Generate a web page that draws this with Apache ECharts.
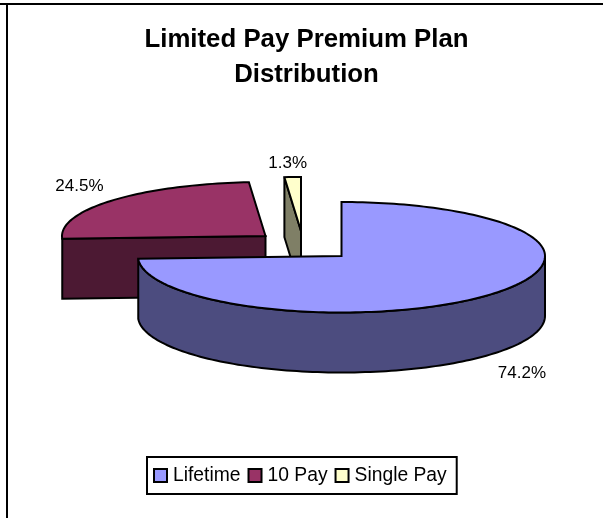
<!DOCTYPE html>
<html>
<head>
<meta charset="utf-8">
<title>Limited Pay Premium Plan Distribution</title>
<script src="https://cdn.jsdelivr.net/npm/echarts@6/dist/echarts.min.js"></script>
<style>
  html, body { margin: 0; padding: 0; background: #fff; }
  #chart { width: 603px; height: 518px; }
</style>
</head>
<body>
<div id="chart"></div>
<script>
var categories = ['Lifetime', '10 Pay', 'Single Pay'];
var shares = [74.2, 24.5, 1.3];
var shareLabels = ['74.2%', '24.5%', '1.3%'];

// look of the 3D pie, same order as categories
var topColors = ['#9999ff', '#993366', '#ffffcc'];
var wallColors = ['#4c4c7f', '#4c1933', '#7f7f66'];
var FONT = '"Liberation Sans", Arial, sans-serif';
var cx = 341.5, cy = 256, rx = 203.5, ryBack = 54, ryFront = 56.5, depth = 60;
var sliceShift = [[0, 0], [-76, -20], [-40.5, -25]];
var labelShift = [[33, 18], [-33, -14], [-5, -14]];

var total = shares.reduce(function (a, b) { return a + b; }, 0);

// angles are clockwise from 12 o'clock, in degrees
function sliceAngles(i) {
  var before = 0;
  for (var k = 0; k < i; k++) before += shares[k];
  return [before / total * 360, (before + shares[i]) / total * 360];
}

function rimPoint(ox, oy, deg) {
  var a = deg * Math.PI / 180;
  var c = Math.cos(a);
  return [ox + rx * Math.sin(a), oy - (c > 0 ? ryBack : ryFront) * c];
}

function rimArc(ox, oy, from, to) {
  var pts = [];
  var n = Math.max(2, Math.ceil(Math.abs(to - from) / 1.5));
  for (var k = 0; k <= n; k++) pts.push(rimPoint(ox, oy, from + (to - from) * k / n));
  return pts;
}

function face(points, color) {
  return {
    type: 'polygon',
    shape: { points: points },
    style: { fill: color, stroke: '#000', lineWidth: 2, lineJoin: 'miter', miterLimit: 2 }
  };
}

function renderSlice(params, api) {
  var i = categories.indexOf(params.seriesName);
  var ang = sliceAngles(i);
  var ox = cx + sliceShift[i][0], oy = cy + sliceShift[i][1];
  var apex = [ox, oy];
  var top = [apex].concat(rimArc(ox, oy, ang[0], ang[1]));
  var kids = [];

  if (i === 0) {
    // outer wall of the big slice, only the front half shows
    var upper = rimArc(ox, oy, 90, ang[1]);
    var lower = rimArc(ox, oy + depth, ang[1], 90);
    kids.push(face(upper.concat(lower), wallColors[i]));
  } else {
    // cut face along the slice's starting edge
    var p = rimPoint(ox, oy, ang[0]);
    kids.push(face([p, apex, [ox, oy + depth], [p[0], p[1] + depth]], wallColors[i]));
  }
  kids.push(face(top, topColors[i]));

  // percent label, outside the rim at the middle of the slice
  var mid = rimPoint(ox, oy + (i === 0 ? depth : 0), (ang[0] + ang[1]) / 2);
  kids.push({
    type: 'text',
    style: {
      x: mid[0] + labelShift[i][0],
      y: mid[1] + labelShift[i][1],
      text: shareLabels[i],
      fill: '#000',
      font: '17px ' + FONT,
      align: 'center',
      verticalAlign: 'middle'
    }
  });
  return { type: 'group', children: kids };
}

// back to front: 10 Pay, Single Pay, then Lifetime on top
var drawOrder = [1, 2, 0];
var series = drawOrder.map(function (i) {
  return {
    type: 'custom',
    name: categories[i],
    coordinateSystem: 'none',
    renderItem: renderSlice,
    itemStyle: { color: topColors[i] },
    data: [shares[i]],
    silent: true,
    animation: false
  };
});

var chart = echarts.init(document.getElementById('chart'), null, { renderer: 'canvas' });
chart.setOption({
  backgroundColor: '#fff',
  animation: false,
  title: {
    text: 'Limited Pay Premium Plan\nDistribution',
    left: 301.5,
    top: 18,
    textAlign: 'center',
    textStyle: { fontFamily: FONT, fontSize: 25.8, fontWeight: 'bold', color: '#000', lineHeight: 34.5 }
  },
  legend: {
    data: categories,
    left: 147,
    top: 457,
    orient: 'horizontal',
    icon: 'rect',
    itemWidth: 13,
    itemHeight: 13,
    itemGap: 7,
    padding: [9, 10, 9, 6],
    selectedMode: false,
    backgroundColor: '#fff',
    borderColor: '#000',
    borderWidth: 2,
    itemStyle: { borderColor: '#000', borderWidth: 2 },
    textStyle: { fontFamily: FONT, fontSize: 19.3, color: '#000', padding: [2, 0, 0, 1] }
  },
  graphic: [
    { type: 'line', shape: { x1: 0, y1: 4, x2: 603, y2: 4 }, style: { stroke: '#000', lineWidth: 2 } },
    { type: 'line', shape: { x1: 7, y1: 3, x2: 7, y2: 518 }, style: { stroke: '#000', lineWidth: 2 } }
  ],
  series: series
});
</script>
</body>
</html>
